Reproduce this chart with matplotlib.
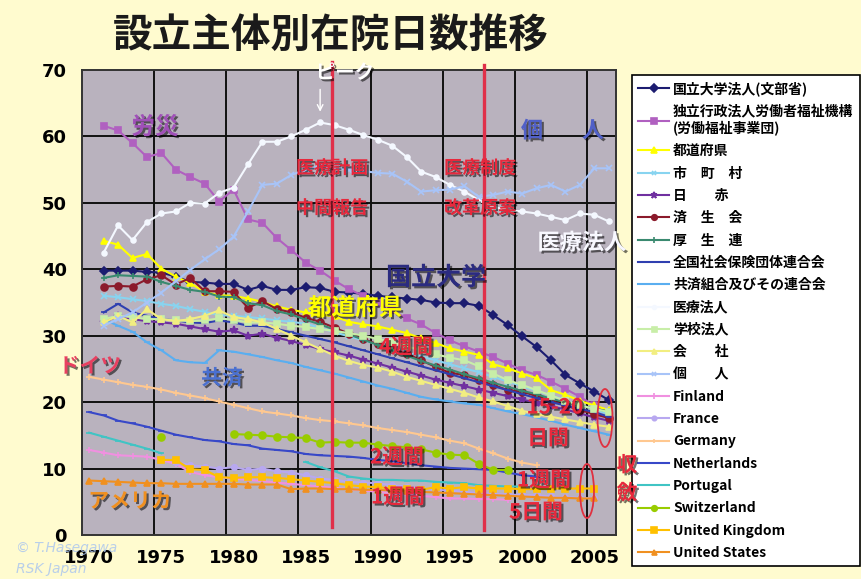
import numpy as np
import matplotlib
matplotlib.use("Agg")
import matplotlib.pyplot as plt
import matplotlib.patheffects as pe
from matplotlib.patches import Ellipse

plt.rcParams['font.family'] = ['Noto Sans CJK JP', 'DejaVu Sans']

nan = np.nan
years = list(range(1970, 2007))

kokuritsu = [nan, 39.8, 39.8, 39.8, 39.6, 39.5, 38.9, 38.1, 38.0, 37.8, 37.8, 36.9, 37.5, 36.9, 36.9, 37.3,
             37.2, 36.6, 36.5, 36.3, 36.0, 35.8, 35.6, 35.4, 35.0, 34.9, 34.9, 34.5, 33.1, 31.6, 29.9,
             28.3, 26.3, 24.1, 22.8, 21.6, 20.3]
rosai = [nan, 61.6, 60.9, 59.0, 56.9, 57.5, 55.0, 53.9, 52.9, 50.2, 52.0, 47.5, 47.0, 44.7, 42.9, 41.0,
         39.8, 38.3, 37.0, 36.0, 35.0, 33.8, 32.6, 31.7, 30.4, 29.3, 28.4, 27.6, 26.8, 25.8, 24.8,
         24.1, 23.1, 22.0, 20.8, 19.5, 18.5]
todofuken = [nan, 44.3, 43.7, 41.7, 42.3, 40.1, 38.9, 37.9, 36.6, 36.1, 36.0, 35.6, 35.1, 34.4, 33.9, 33.5,
             33.2, 32.9, 32.1, 31.7, 31.4, 30.9, 30.4, 29.6, 28.9, 28.1, 27.6, 27.1, 25.7, 25.1, 24.3,
             23.6, 21.8, 21.1, 20.2, 19.5, 18.8]
shichoson = [nan, 36.0, 35.8, 35.5, 35.2, 34.8, 34.5, 34.0, 33.6, 33.1, 33.0, 32.8, 32.6, 32.3, 32.1, 31.8,
             31.2, 30.5, 29.9, 29.3, 28.7, 28.1, 27.5, 26.9, 26.3, 25.7, 25.1, 24.5, 23.8, 23.1, 22.4,
             21.7, 21.0, 20.3, 19.6, 18.9, 18.2]
nisseki = [nan, 32.0, 33.0, 32.5, 32.2, 32.0, 31.8, 31.4, 31.0, 30.6, 30.8, 30.0, 30.3, 29.7, 29.2, 28.6,
           28.0, 27.5, 27.0, 26.4, 25.8, 25.2, 24.6, 24.0, 23.4, 22.9, 22.4, 21.9, 21.4, 20.9, 20.4,
           19.9, 19.4, 18.9, 18.3, 17.7, 17.2]
saiseikai = [nan, 37.4, 37.5, 37.4, 38.5, 39.1, 37.7, 38.7, 36.7, 36.7, 36.6, 34.2, 35.2, 34.0, 33.5, 32.7,
             32.1, 31.2, 30.3, 29.5, 28.7, 28.0, 27.3, 26.3, 25.3, 24.4, 24.1, 23.3, 22.6, 21.8, 21.6,
             20.9, 20.2, 19.5, 18.8, 18.2, 17.6]
koseiren = [nan, 38.7, 39.1, 39.0, 38.9, 38.1, 37.5, 36.9, 36.6, 35.9, 35.8, 34.9, 34.6, 33.7, 33.2, 32.4,
            31.7, 30.9, 30.2, 29.4, 28.6, 27.8, 27.0, 26.2, 25.5, 24.9, 24.2, 23.6, 22.9, 22.3, 21.7,
            21.2, 20.5, 20.0, 19.5, 19.0, 18.6]
zenkoku = [nan, 33.5, 34.8, 33.5, 33.0, 32.5, 32.3, 32.0, 31.9, 32.3, 32.0, 31.5, 31.5, 31.0, 30.5, 30.0,
           29.5, 29.0, 28.4, 27.8, 27.2, 26.6, 26.0, 25.4, 24.8, 24.2, 23.6, 23.0, 22.4, 21.8, 21.2,
           20.6, 20.0, 19.5, 19.0, 18.5, 17.8]
kyosai = [nan, 32.5, 31.5, 30.6, 29.0, 27.8, 26.3, 26.0, 25.9, 27.8, 27.6, 27.2, 26.8, 26.3, 25.9, 25.3,
          24.8, 24.3, 23.7, 23.1, 22.5, 22.0, 21.4, 20.8, 20.4, 20.1, 19.8, 19.6, 19.1, 18.6, 18.2,
          17.7, 17.2, 16.6, 16.1, 15.6, 15.1]
iryohojin = [nan, 42.5, 46.6, 44.4, 47.1, 48.4, 48.7, 50.0, 49.9, 51.5, 52.3, 55.8, 59.2, 59.2, 60.0, 61.0,
             62.1, 61.7, 61.0, 60.2, 59.5, 58.6, 56.9, 54.7, 53.9, 52.7, 51.7, 50.4, 49.4, 48.9, 48.7,
             48.4, 47.9, 47.4, 48.4, 48.2, 47.2]
gakko = [nan, 32.5, 33.0, 32.8, 32.5, 32.5, 32.3, 32.2, 32.3, 32.6, 32.4, 32.0, 32.0, 31.8, 31.5, 31.3,
         31.0, 30.7, 30.4, 30.0, 29.5, 29.0, 28.4, 27.8, 27.2, 26.7, 26.3, 25.4, 24.3, 23.3, 22.6,
         21.8, 21.0, 20.2, 19.5, 19.0, 18.5]
kaisha = [nan, 32.0, 33.0, 32.0, 34.0, 32.5, 32.2, 32.5, 33.0, 33.8, 32.8, 32.5, 32.0, 31.0, 30.0, 29.0,
          28.0, 27.0, 26.2, 25.6, 25.2, 24.6, 23.8, 23.2, 22.6, 22.0, 21.4, 20.7, 20.1, 19.4, 18.7,
          18.2, 17.8, 17.4, 17.0, 16.6, 16.3]
kojin = [nan, 31.5, 32.5, 33.5, 35.0, 36.5, 38.2, 39.9, 41.5, 43.0, 44.9, 48.7, 52.7, 52.9, 54.2, 55.0,
         55.5, 55.3, 55.0, 54.8, 54.5, 54.4, 53.2, 51.7, 51.9, 52.0, 52.5, 50.9, 51.2, 51.7, 51.4,
         52.2, 52.7, 51.7, 52.7, 55.2, 55.2]
finland = [12.8, 12.4, 12.0, 11.9, 11.8, 11.3, 10.7, 9.5, 9.0, 8.7, 8.5, 8.3, 8.1, 7.9, 7.7, 7.5,
           7.3, 7.1, 6.9, 6.7, 6.5, 6.3, 6.1, 5.9, 5.7, 5.5, 5.5, 5.4, 5.4, 5.3, nan,
           nan, nan, nan, nan, nan, nan]
france = [nan, nan, nan, nan, nan, nan, 11.0, 10.5, 10.3, 10.0, 10.2, 9.8, 10.0, 9.6, 9.4, 9.0,
          8.5, 8.3, 8.0, 7.9, 7.8, 7.5, 7.3, 7.0, 6.8, 6.7, 6.5, 6.3, 6.2, 6.1, 6.0,
          6.0, 5.8, 5.7, 5.6, 5.5, nan]
germany = [23.8, 23.4, 23.0, 22.6, 22.3, 21.9, 21.4, 21.0, 20.6, 20.1, 19.6, 19.1, 18.6, 18.3, 18.0, 17.6,
           17.3, 17.1, 16.8, 16.5, 16.1, 15.8, 15.5, 15.1, 14.7, 14.2, 13.8, 13.0, 12.3, 11.5, 10.9,
           10.5, nan, nan, nan, nan, nan]
netherlands = [18.5, 18.0, 17.2, 16.8, 16.3, 15.7, 15.1, 14.7, 14.3, 14.1, 13.7, 13.5, 13.0, 12.8, 12.6, 12.2,
               12.0, 11.9, 11.8, 11.6, 11.3, 11.1, 10.8, 10.5, 10.3, 10.1, 10.0, 9.9, 9.8, 9.4, 9.0,
               8.8, nan, nan, nan, nan, nan]
portugal = [15.4, 14.8, 14.2, 13.6, 13.0, 12.3, nan, nan, nan, nan, nan, nan, nan, nan, nan, 11.0,
            10.2, 9.6, 8.8, 8.5, 8.3, 8.3, 8.2, 8.2, 8.0, 7.9, 7.8, 7.5, 7.4, 7.3, 7.3,
            nan, nan, nan, nan, nan, nan]
switzerland = [nan, nan, nan, nan, nan, 14.7, nan, nan, nan, nan, 15.2, 15.1, 15.0, 14.8, 14.7, 14.6,
               13.9, 14.0, 13.9, 13.9, 13.6, 13.4, 13.2, 12.9, 12.4, 12.1, 12.0, 10.7, 9.8, 9.8, nan,
               nan, nan, nan, nan, nan, nan]
uk = [nan, nan, nan, nan, nan, 11.3, 11.3, 9.9, 9.8, 8.7, 8.6, 8.7, 8.7, 8.6, 8.4, 8.2,
      8.0, 7.8, 7.5, 7.3, 7.2, 7.0, 6.9, 6.8, 7.2, 7.0, 7.2, 7.0, 7.0, 7.0, 6.9,
      6.9, 7.0, 7.0, 7.0, 7.0, nan]
us = [8.2, 8.1, 8.0, 7.9, 7.8, 7.8, 7.7, 7.7, 7.7, 7.7, 7.7, 7.6, 7.6, 7.6, 6.9, 7.0,
      7.0, 6.9, 6.9, 6.8, 6.8, 6.7, 6.6, 6.5, 6.4, 6.3, 6.2, 6.1, 6.0, 5.9, 5.8,
      5.7, 5.6, 5.6, 5.5, 5.5, nan]

labels = ['国立大学法人(文部省)', '独立行政法人労働者福祉機構\n(労働福祉事業団)', '都道府県', '市　町　村',
          '日　　赤', '済　生　会', '厚　生　連', '全国社会保険団体連合会', '共済組合及びその連合会',
          '医療法人', '学校法人', '会　　社', '個　　人', 'Finland', 'France', 'Germany',
          'Netherlands', 'Portugal', 'Switzerland', 'United Kingdom', 'United States']
series = [kokuritsu, rosai, todofuken, shichoson, nisseki, saiseikai, koseiren, zenkoku, kyosai,
          iryohojin, gakko, kaisha, kojin, finland, france, germany, netherlands, portugal,
          switzerland, uk, us]
colors = ['#1C1C70', '#B060C0', '#FFFF00', '#88D4F0', '#7030A0', '#8B1A2B', '#3A8A70', '#2F3FB0',
          '#5AAEF0', '#F4F8FF', '#C8EEA8', '#F2EE80', '#A8C4F8', '#F090E0', '#B8A8F0', '#FFC890',
          '#3848C8', '#40C4C4', '#99CC00', '#FFC000', '#F09020']
markers = ['D', 's', '^', 'x', '*', 'o', '+', '_', '_', 'o', 's', '^', 'x', '+', 'o', '+',
           '_', '_', 'o', 's', '^']
msizes = [4.5, 5, 5, 4, 6, 5, 5, 5, 5, 3.5, 4.5, 4.5, 4, 5, 4, 4, 4, 4, 5, 5, 4.5]

W, H = 862, 579
fig = plt.figure(figsize=(W / 100, H / 100), dpi=100, facecolor='#FFFBCF')
ax = fig.add_axes([82 / W, 1 - 535 / H, (616 - 82) / W, (535 - 70) / H])
ax.set_facecolor('#B9B2BE')

x = np.array(years, dtype=float)
handles = []
for s, c, m, ms, lab in zip(series, colors, markers, msizes, labels):
    y = np.array(s, dtype=float)
    ln, = ax.plot(x, y, color=c, lw=1.5, marker=m, markersize=ms, markeredgecolor=c,
                  markeredgewidth=1.2, label=lab, zorder=3)
    handles.append(ln)

ax.set_xlim(1969.5, 2006.5)
ax.set_ylim(0, 70)
ax.set_yticks(range(0, 71, 10))
ax.set_xticks(range(1970, 2006, 5))
ax.tick_params(axis='both', which='both', length=0)
ax.tick_params(axis='y', pad=11, labelsize=13)
ax.tick_params(axis='x', pad=10, labelsize=13)
for t in ax.get_xticklabels() + ax.get_yticklabels():
    t.set_fontweight('bold')
    t.set_fontfamily(['DejaVu Sans'])
ax.grid(False)
for yv in range(10, 70, 10):
    ax.axhline(yv, color='#111111', lw=1.4, zorder=1)
for xv in np.arange(1974.5, 2006, 5):
    ax.axvline(xv, color='#111111', lw=1.4, zorder=1)
for sp in ax.spines.values():
    sp.set_color('#333333')
    sp.set_linewidth(1.4)

# red vertical lines
for xv, y0, y1 in [(1986.8, 1.2, 71.2), (1997.35, 0.75, 70.8)]:
    ax.plot([xv, xv], [y0, y1], color='#E0304A', lw=2.4, clip_on=False, zorder=5)

shadow = [pe.withSimplePatchShadow(offset=(1.5, -1.5), shadow_rgbFace='black', alpha=0.55)]

def ftext(px, py, s, color, size, shadow_on=True, **kw):
    fig.text(px / W, 1 - py / H, s, color=color, fontsize=size, fontweight='bold',
             ha='center', va='center', path_effects=shadow if shadow_on else None, zorder=10, **kw)

# Title
ftext(331, 35, '設立主体別在院日数推移', '#1A1A1A', 28.5, shadow_on=False)

red = '#E8283C'
ftext(332, 168, '医療計画', red, 13)
ftext(332, 208, '中間報告', red, 13)
ftext(480, 168, '医療制度', red, 13)
ftext(480, 208, '改革原案', red, 13)
ftext(345, 73, 'ピーク', '#FFFFFF', 14)
ftext(155, 127, '労災', '#A050B8', 17)
ftext(532, 131, '個', '#5060C8', 16)
ftext(593, 131, '人', '#5060C8', 16)
ftext(582, 243, '医療法人', '#F8F8FF', 16)
ftext(436, 278, '国立大学', '#2B2B80', 18)
ftext(355, 308, '都道府県', '#FFFF00', 17)
ftext(406, 347, '4週間', red, 15)
ftext(90, 366, 'ドイツ', '#E84060', 15)
ftext(222, 378, '共済', '#4A70D0', 15)
ftext(555, 407, '15-20', red, 15)
ftext(548, 438, '日間', red, 15)
ftext(397, 457, '2週間', red, 15)
ftext(544, 480, '1週間', red, 15)
ftext(398, 497, '1週間', red, 15)
ftext(536, 512, '5日間', red, 15)
ftext(130, 501, 'アメリカ', '#F09020', 15)
ftext(627, 465, '収', red, 15)
ftext(627, 493, '斂', red, 15)

# arrow to the peak
ax.annotate('', xy=(1986, 63.3), xytext=(1986, 67.5),
            arrowprops=dict(arrowstyle='->', color='white', lw=1.0), zorder=6)

# ellipses
for cx, cy, w, h in [(605, 418, 15, 58), (587, 491, 14, 54)]:
    fig.add_artist(Ellipse((cx / W, 1 - cy / H), w / W, h / H, transform=fig.transFigure,
                           fill=False, edgecolor='#E03040', lw=1.3, zorder=9))

# watermark
fig.text(16 / W, 1 - 552 / H, '© T.Hasegawa', color='#A8C4F0', fontsize=10, style='italic',
         fontfamily=['DejaVu Sans'], alpha=0.8, zorder=11)
fig.text(16 / W, 1 - 573 / H, 'RSK Japan', color='#A8C4F0', fontsize=10, style='italic',
         fontfamily=['DejaVu Sans'], alpha=0.8, zorder=11)

leg = fig.legend(handles=handles, loc='upper left', bbox_to_anchor=(632 / W, 1 - 75 / H),
                 bbox_transform=fig.transFigure, frameon=True, fancybox=False, framealpha=1,
                 facecolor='white', edgecolor='black', fontsize=10, labelspacing=0.6,
                 handlelength=2.2, handletextpad=0.3, borderpad=0.45, borderaxespad=0,
                 markerscale=0.8)
leg.get_frame().set_linewidth(1.2)
for t in leg.get_texts():
    t.set_fontweight('bold')

fig.savefig('out.png', dpi=100, facecolor=fig.get_facecolor())
